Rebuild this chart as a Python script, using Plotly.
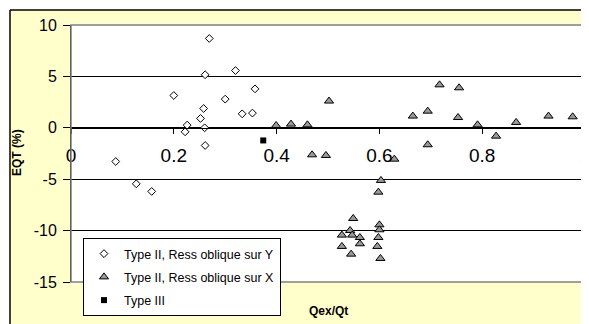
import plotly.graph_objects as go

# Type II, Ress oblique sur Y (diamonds)
y_type_x = [0.269, 0.320, 0.261, 0.200, 0.358, 0.300, 0.258, 0.333, 0.353, 0.252,
            0.226, 0.260, 0.222, 0.261, 0.087, 0.127, 0.157]
y_type_eqt = [8.69, 5.57, 5.16, 3.14, 3.79, 2.79, 1.88, 1.36, 1.43, 0.91,
              0.26, 0.0, -0.39, -1.72, -3.28, -5.45, -6.19]

# Type II, Ress oblique sur X (triangles)
x_type_x = [0.399, 0.428, 0.460, 0.502, 0.469, 0.496, 0.629, 0.665, 0.694, 0.694,
            0.717, 0.755, 0.753, 0.791, 0.827, 0.866, 0.929, 0.976,
            0.603, 0.598, 0.549, 0.543, 0.527, 0.547, 0.562, 0.562, 0.527, 0.545,
            0.600, 0.600, 0.598, 0.596, 0.602]
x_type_eqt = [0.23, 0.36, 0.29, 2.6, -2.63, -2.69, -3.05, 1.14, 1.62, -1.65,
              4.18, 3.89, 1.0, 0.29, -0.81, 0.52, 1.14, 1.07,
              -5.12, -6.26, -8.82, -9.99, -10.44, -10.44, -10.67, -11.28, -11.54, -12.29,
              -9.44, -9.92, -10.67, -11.54, -12.71]

# Type III (square)
t3_x = [0.374]
t3_eqt = [-1.23]

x_ticks = [0, 0.2, 0.4, 0.6, 0.8, 1]
x_labels = ["0", "0.2", "0.4", "0.6", "0.8", "1"]
y_ticks = [10, 5, 0, -5, -10, -15]
y_labels = ["10", "5", "0", "-5", "-10", "-15"]

# page sits 8px in from the window corner (body margin)
OFF = 8
W, H = 589 - OFF, 324 - OFF
PW, PH = 514, 257
L, T = 71 - OFF, 25 - OFF
R, B = W - L - PW, H - T - PH


def px(x):
    # window x pixel -> paper fraction
    return (x - OFF - L) / PW


def py(y):
    # window y pixel -> paper fraction
    return (T + PH - (y - OFF)) / PH


font = "Liberation Sans, Arial, sans-serif"

fig = go.Figure()
fig.add_trace(go.Scatter(
    x=y_type_x, y=y_type_eqt, mode="markers", name="Type II, Ress oblique sur Y",
    legendgroup="a",
    marker=dict(symbol="diamond", size=6, color="white", line=dict(color="black", width=1))
))
fig.add_trace(go.Scatter(
    x=x_type_x, y=x_type_eqt, mode="markers", name="Type II, Ress oblique sur X",
    legendgroup="b",
    marker=dict(symbol="triangle-up", size=8, color="#999999", line=dict(color="black", width=1))
))
fig.add_trace(go.Scatter(
    x=t3_x, y=t3_eqt, mode="markers", name="Type III",
    legendgroup="c",
    marker=dict(symbol="square", size=6, color="black", line=dict(color="black", width=0))
))

shapes = [
    # white strips outside the chart area
    dict(type="rect", xref="paper", yref="paper", x0=px(-5), x1=px(W + 20), y0=py(10), y1=py(-5),
         fillcolor="white", line=dict(width=0), layer="below"),
    dict(type="rect", xref="paper", yref="paper", x0=px(-5), x1=px(10), y0=py(H + 20), y1=py(-5),
         fillcolor="white", line=dict(width=0), layer="below"),
    # chart border
    dict(type="line", xref="paper", yref="paper", x0=px(10), x1=px(W + 20), y0=py(10), y1=py(10),
         line=dict(color="black", width=1.5)),
    dict(type="line", xref="paper", yref="paper", x0=px(10), x1=px(10), y0=py(10), y1=py(H + 20),
         line=dict(color="black", width=1.5)),
    # plot area border
    dict(type="rect", xref="paper", yref="paper", x0=0, x1=1, y0=0, y1=1,
         line=dict(color="#808080", width=1.5), layer="above"),
]

fig.update_layout(
    width=W, height=H,
    margin=dict(l=L, r=R, t=T, b=B, autoexpand=False),
    paper_bgcolor="#FFFFCC",
    plot_bgcolor="white",
    font=dict(family=font, color="black"),
    showlegend=True,
    legend=dict(
        x=px(83), y=py(238), xanchor="left", yanchor="top",
        bgcolor="white", bordercolor="black", borderwidth=1,
        font=dict(size=12.5), traceorder="grouped", tracegroupgap=4,
        itemwidth=30,
    ),
    shapes=shapes,
    annotations=[
        dict(text="<b>EQT (%)</b>", xref="paper", yref="paper", x=px(17), y=py(153),
             xanchor="center", yanchor="middle",
             textangle=-90, showarrow=False, font=dict(size=12)),
        dict(text="<b>Qex/Qt</b>", xref="paper", yref="paper", x=px(328), y=py(311),
             xanchor="center", yanchor="middle",
             showarrow=False, font=dict(size=12)),
    ],
)

fig.update_xaxes(
    range=[0, 1], tickvals=x_ticks, ticktext=x_labels, showgrid=False, zeroline=False,
    anchor="free", position=py(128), automargin=False,
    showline=True, linecolor="black", linewidth=1,
    ticks="outside", ticklen=5, tickcolor="black",
    tickfont=dict(size=19), ticklabelstandoff=5, ticklabeloverflow="allow",
)
fig.update_yaxes(
    range=[-15, 10], tickvals=y_ticks, ticktext=y_labels, automargin=False,
    showgrid=True, gridcolor="black", gridwidth=1,
    zeroline=False, showline=True, linecolor="black", linewidth=1,
    ticks="outside", ticklen=7, tickcolor="black",
    tickfont=dict(size=16), ticklabelstandoff=3,
)

fig.write_html("out.html")
